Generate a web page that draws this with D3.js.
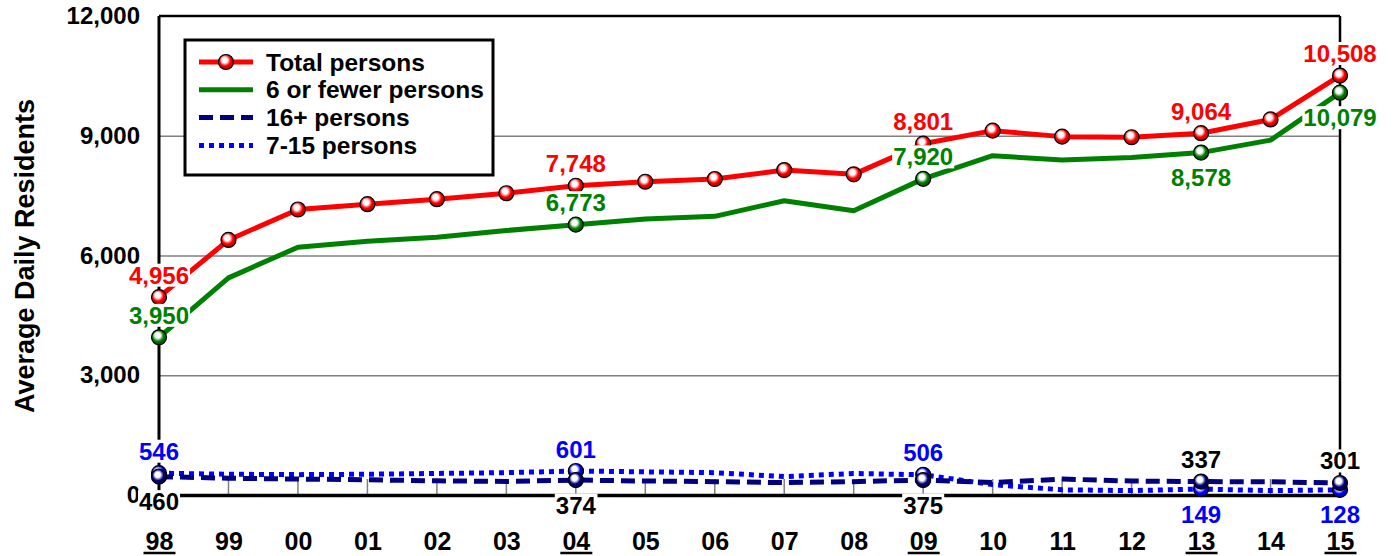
<!DOCTYPE html>
<html>
<head>
<meta charset="utf-8">
<script src="https://cdn.jsdelivr.net/npm/d3@7"></script>
<style>
  body { margin: 0; background: #fff; }
  svg { display: block; font-family: "Liberation Sans", Arial, sans-serif; font-weight: bold; }
</style>
</head>
<body>
<div id="chart"></div>
<script>
// values
var years = ["98", "99", "00", "01", "02", "03", "04", "05", "06", "07", "08", "09", "10", "11", "12", "13", "14", "15"];
var totalPersons = [4956, 6390, 7152, 7285, 7410, 7560, 7748, 7848, 7916, 8141, 8033, 8801, 9128, 8978, 8963, 9064, 9409, 10508];
var sixOrFewer = [3950, 5440, 6208, 6358, 6458, 6626, 6773, 6914, 6981, 7372, 7122, 7920, 8500, 8392, 8458, 8578, 8890, 10079];
var sixteenPlus = [460, 420, 400, 380, 355, 340, 374, 350, 335, 310, 335, 375, 310, 400, 350, 337, 330, 301];
var sevenToFifteen = [546, 520, 510, 520, 540, 560, 601, 580, 560, 460, 540, 506, 260, 130, 110, 149, 110, 128];
var keyYears = ["98", "04", "09", "13", "15"];
var yTicks = [0, 3000, 6000, 9000, 12000];

// which labelled points sit above (1) or below (-1) their marker
var totalSide = [1, 1, 1, 1, 1];
var sixSide = [1, 1, 1, -1, -1];
var sixteenSide = [-1, -1, -1, 1, 1];
var sevenSide = [1, 1, 1, -1, -1];

function init() {
  var width = 1393, height = 556;
  var left = 159, right = 1340, top = 16, bottom = 495;

  var svg = d3.select("#chart").append("svg")
    .attr("width", width)
    .attr("height", height);

  var x = d3.scalePoint().domain(years).range([left, right]);
  var y = d3.scaleLinear().domain([0, 12000]).range([bottom, top]);

  // gradients for the ball markers
  var defs = svg.append("defs");
  function ball(id, col, edge) {
    var g = defs.append("radialGradient").attr("id", id)
      .attr("cx", "45%").attr("cy", "42%").attr("r", "60%")
      .attr("fx", "40%").attr("fy", "35%");
    g.append("stop").attr("offset", "0%").attr("stop-color", "#fff");
    g.append("stop").attr("offset", "30%").attr("stop-color", "#fff");
    g.append("stop").attr("offset", "62%").attr("stop-color", col);
    g.append("stop").attr("offset", "100%").attr("stop-color", edge);
  }
  ball("ballRed", "#ff0000", "#a00000");
  ball("ballGreen", "#008000", "#004000");
  ball("ballNavy", "#000080", "#000030");
  ball("ballBlue", "#0000ff", "#000090");

  // grid lines
  svg.append("g")
    .attr("transform", "translate(" + left + ",0)")
    .call(d3.axisLeft(y).tickValues([3000, 6000, 9000]).tickSize(-(right - left)).tickFormat(""))
    .call(function (g) { g.select(".domain").remove(); })
    .selectAll("line").attr("stroke", "#808080").attr("stroke-width", 1.5);

  // y tick labels
  svg.append("g")
    .attr("transform", "translate(" + left + ",0)")
    .call(d3.axisLeft(y).tickValues(yTicks).tickSize(0).tickPadding(19).tickFormat(d3.format(",")))
    .call(function (g) { g.select(".domain").remove(); })
    .selectAll("text")
    .attr("font-size", 24)
    .attr("font-family", "'Liberation Sans', Arial, sans-serif")
    .attr("font-weight", "bold")
    .attr("fill", "#000");

  // small ticks on the x axis
  svg.append("g").selectAll("line")
    .data(years.slice(1))
    .enter().append("line")
    .attr("x1", function (d) { return x(d); })
    .attr("x2", function (d) { return x(d); })
    .attr("y1", bottom)
    .attr("y2", bottom - 16)
    .attr("stroke", "#808080")
    .attr("stroke-width", 1.5);

  // frame
  svg.append("line").attr("x1", left).attr("x2", right).attr("y1", top).attr("y2", top)
    .attr("stroke", "#000").attr("stroke-width", 2.5);
  svg.append("line").attr("x1", right).attr("x2", right).attr("y1", top).attr("y2", bottom)
    .attr("stroke", "#000").attr("stroke-width", 2.5);
  svg.append("line").attr("x1", left).attr("x2", left).attr("y1", top).attr("y2", bottom)
    .attr("stroke", "#000").attr("stroke-width", 3);

  // x axis with year labels
  var xAxis = svg.append("g")
    .attr("transform", "translate(0," + bottom + ")")
    .call(d3.axisBottom(x).tickSize(0).tickPadding(37));
  xAxis.select(".domain").attr("stroke", "#000").attr("stroke-width", 3.5);
  xAxis.selectAll("text")
    .attr("font-size", 25)
    .attr("font-family", "'Liberation Sans', Arial, sans-serif")
    .attr("font-weight", "bold")
    .attr("fill", "#000");
  xAxis.selectAll(".tick").filter(function (d) { return keyYears.indexOf(d) >= 0; })
    .append("line")
    .attr("x1", -16).attr("x2", 16)
    .attr("y1", 58).attr("y2", 58)
    .attr("stroke", "#000").attr("stroke-width", 2.5);

  // y title
  svg.append("text")
    .attr("transform", "translate(25,256) rotate(-90)")
    .attr("text-anchor", "middle")
    .attr("dominant-baseline", "central")
    .attr("font-size", 27)
    .text("Average Daily Residents");

  var line = d3.line()
    .x(function (d, i) { return x(years[i]); })
    .y(function (d) { return y(d); });

  var series = [
    { name: "7-15 persons", values: sevenToFifteen, color: "#0000ff", dash: "5,5", ball: "ballBlue", label: "#0000ff", side: sevenSide },
    { name: "16+ persons", values: sixteenPlus, color: "#000080", dash: "14,7", ball: "ballNavy", label: "#000", side: sixteenSide },
    { name: "6 or fewer persons", values: sixOrFewer, color: "#008000", dash: null, ball: "ballGreen", label: "#008000", side: sixSide },
    { name: "Total persons", values: totalPersons, color: "#ff0000", dash: null, ball: "ballRed", label: "#ff0000", side: totalSide }
  ];

  series.forEach(function (s) {
    svg.append("path")
      .datum(s.values)
      .attr("d", line)
      .attr("fill", "none")
      .attr("stroke", s.color)
      .attr("stroke-width", 5)
      .attr("stroke-linejoin", "round")
      .attr("stroke-dasharray", s.dash);
  });

  // markers
  series.forEach(function (s) {
    var pts = s.values.map(function (v, i) { return { year: years[i], value: v }; })
      .filter(function (d) { return s.name == "Total persons" || keyYears.indexOf(d.year) >= 0; });
    svg.append("g").selectAll("circle")
      .data(pts)
      .enter().append("circle")
      .attr("cx", function (d) { return x(d.year); })
      .attr("cy", function (d) { return y(d.value); })
      .attr("r", 7.5)
      .attr("fill", "url(#" + s.ball + ")")
      .attr("stroke", "#000")
      .attr("stroke-width", 1.2);
  });

  // legend
  var legend = svg.append("g");
  legend.append("rect")
    .attr("x", 185).attr("y", 40).attr("width", 308).attr("height", 135)
    .attr("fill", "#fff").attr("stroke", "#000").attr("stroke-width", 3);
  var legendOrder = [series[3], series[2], series[1], series[0]];
  legendOrder.forEach(function (s, i) {
    var ly = 62 + i * 27.8;
    legend.append("line")
      .attr("x1", 199).attr("x2", 253).attr("y1", ly).attr("y2", ly)
      .attr("stroke", s.color).attr("stroke-width", 5)
      .attr("stroke-dasharray", s.dash);
    if (s.name == "Total persons") {
      legend.append("circle").attr("cx", 226).attr("cy", ly).attr("r", 7.5)
        .attr("fill", "url(#" + s.ball + ")").attr("stroke", "#000").attr("stroke-width", 1.2);
    }
    legend.append("text")
      .attr("x", 266).attr("y", ly)
      .attr("dominant-baseline", "central")
      .attr("font-size", 24.5)
      .text(s.name);
  });

  // value labels on white boxes
  var labels = svg.append("g");
  series.forEach(function (s) {
    keyYears.forEach(function (yr, k) {
      var v = s.values[years.indexOf(yr)];
      var cy = y(v) - (s.side[k] > 0 ? 22 : -25);
      var g = labels.append("g");
      var t = g.append("text")
        .attr("x", x(yr)).attr("y", cy)
        .attr("text-anchor", "middle")
        .attr("dominant-baseline", "central")
        .attr("font-size", 24)
        .attr("fill", s.label)
        .text(d3.format(",")(v));
      var bb = t.node().getBBox();
      g.insert("rect", "text")
        .attr("x", bb.x - 1).attr("y", bb.y + 2)
        .attr("width", bb.width + 2).attr("height", bb.height - 4)
        .attr("fill", "#fff");
    });
  });
}

window.onload = init;
</script>
</body>
</html>
